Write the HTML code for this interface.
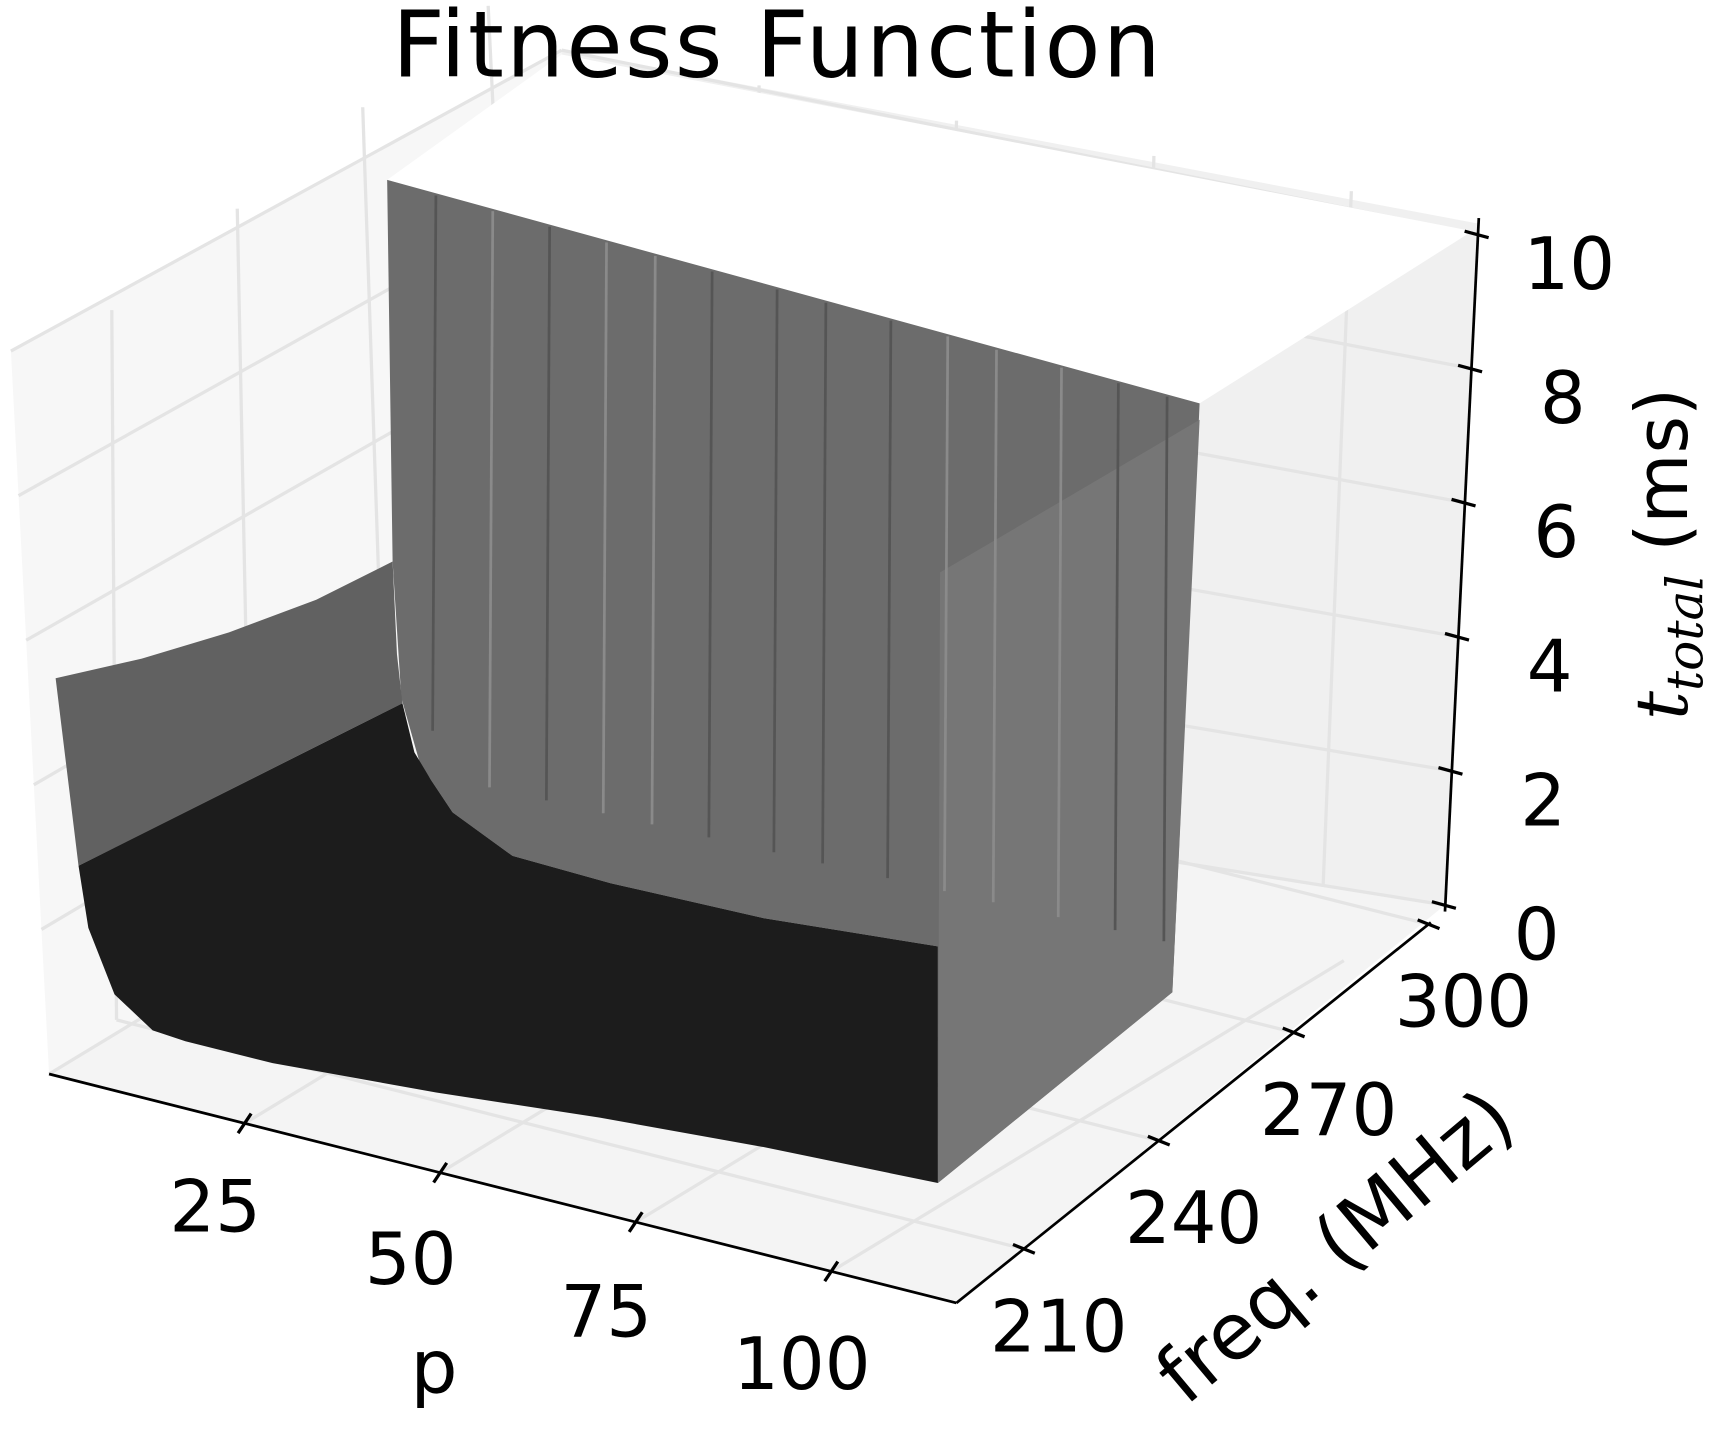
<!DOCTYPE html>
<html><head><meta charset="utf-8"><style>
html,body{margin:0;padding:0;background:#fff}
svg{display:block}
text{font-family:"DejaVu Sans","Liberation Sans",sans-serif;fill:#000}
</style></head><body>
<svg id="chart" width="1710" height="1436" viewBox="0 0 1568 1317" preserveAspectRatio="none" xmlns="http://www.w3.org/2000/svg">
<g>
  <polygon points="10,322 515,46 515,700 45,985" fill="#f7f7f7"/>
  <polygon points="515,46 1355,205 1325,830 515,700" fill="#f0f0f0"/>
  <polygon points="45,985 515,700 1325,830 877,1195" fill="#f4f4f4"/>
</g>
<g id="grid" stroke="#e4e4e4" stroke-width="3" fill="none"></g>
<g>
  <polygon points="355,165 515,50 1350,212 1100,370 1075,372" fill="#ffffff"/>
  <polygon points="355,165 1100,370 1075,910 860,1085 860,868 700,842 560,810 470,785 415,745 385,700 368,640 360,515" fill="#6c6c6c"/>
  <polygon points="862,525 1100,385 1075,910 860,1085" fill="#767676"/>
  <g id="stripes"></g>
  <polygon points="51,622 130,604 210,580 290,550 360,515 364,600 369,645 72,794" fill="#616161"/>
  <polygon points="72,794 369,645 380,690 395,715 415,745 470,785 560,810 700,842 860,868 860,1085 700,1052 550,1025 400,1002 250,975 170,955 140,945 105,912 81,851" fill="#1c1c1c"/>
</g>
<g id="axes" stroke="#000" stroke-width="2.5" fill="none">
  <line x1="45" y1="985" x2="877" y2="1195"/>
  <line x1="877" y1="1195" x2="1312" y2="846"/>
  <line x1="1356" y1="200" x2="1325" y2="836"/>
</g>
<g id="ticks"></g>
<text x="713" y="70" font-size="84" letter-spacing="2" text-anchor="middle">Fitness Function</text>
<text x="398" y="1277" font-size="68" text-anchor="middle">p</text>
<text font-size="72" text-anchor="middle" transform="translate(1240,1162) rotate(-40)">freq. (MHz)</text>
<text font-size="66" text-anchor="middle" transform="translate(1547,508) rotate(-90)"><tspan font-family="DejaVu Serif,serif" font-style="italic">t</tspan><tspan font-family="DejaVu Serif,serif" font-style="italic" font-size="46" dy="14">total</tspan><tspan dy="-14"> (ms)</tspan></text>
</svg>
<script>
const pTicks=[25,50,75,100];
const pTickLabels=["25","50","75","100"];
const freqTicks=[210,240,270,300];
const freqTickLabels=["210","240","270","300"];
const zTicks=[0,2,4,6,8,10];
const zTickLabels=["0","2","4","6","8","10"];
const stripeP=[6,13,20,27,33,40,48,54,62,69,75,83,90,96];
const NS="http://www.w3.org/2000/svg";
const P0=[45,985],P1=[877,1195];const pMin=0,pMax=116;
const F0=[877,1195],F1=[1312,846];const fMin=195,fMax=300.5;
const Z0=[1325,830],Z1=[1355,215];const zMin=0,zMax=10;
function lerp(a,b,t){return [a[0]+(b[0]-a[0])*t,a[1]+(b[1]-a[1])*t];}
function pPos(v){return lerp(P0,P1,(v-pMin)/(pMax-pMin));}
function fPos(v){return lerp(F0,F1,(v-fMin)/(fMax-fMin));}
function zPos(v){return lerp(Z0,Z1,(v-zMin)/(zMax-zMin));}
const ticks=document.getElementById('ticks');
function line(x1,y1,x2,y2,name){const l=document.createElementNS(NS,'line');l.setAttribute('x1',x1);l.setAttribute('y1',y1);l.setAttribute('x2',x2);l.setAttribute('y2',y2);l.setAttribute('stroke','#000');l.setAttribute('stroke-width','3');


ticks.appendChild(l);}
function label(x,y,s,anchor,name){const t=document.createElementNS(NS,'text');t.setAttribute('x',x);t.setAttribute('y',y);t.setAttribute('font-size','66');t.setAttribute('text-anchor',anchor);t.textContent=s;


ticks.appendChild(t);}
pTicks.forEach((v,i)=>{const [x,y]=pPos(v);line(x-6,y+9,x+6,y-9,'p-tick');label(x-27,y+99+i*3,pTickLabels[i],'middle','p-tick-label');});
freqTicks.forEach((v,i)=>{const [x,y]=fPos(v);line(x-10,y-4,x+10,y+4,'freq-tick');label(x+32,y+94,freqTickLabels[i],'middle','freq-tick-label');});
zTicks.forEach((v,i)=>{const [x,y]=zPos(v);line(x-12,y-3,x+10,y+3,'z-tick');label(x+84,y+50,zTickLabels[i],'middle','z-tick-label');});
const grid=document.getElementById('grid');
function gl(a,b,name){const l=document.createElementNS(NS,'line');l.setAttribute('x1',a[0]);l.setAttribute('y1',a[1]);l.setAttribute('x2',b[0]);l.setAttribute('y2',b[1]);


grid.appendChild(l);}
pTicks.forEach(v=>{const a=pPos(v);gl(a,[a[0]+470,a[1]-285],'floor-grid-p');const t=(v-pMin)/(pMax-pMin);const b=[515+t*810,700+t*130];gl(b,[b[0]+t*30,b[1]-654+t*20],'back-grid-p');});
freqTicks.forEach(v=>{const a=fPos(v);const b=[a[0]-832,a[1]-210];gl(a,b,'floor-grid-f');gl(b,[b[0]-(b[0]-45)*0.07,b[1]-654+(b[0]-45)*0.05],'left-grid-f');});
zTicks.forEach(v=>{const b=zPos(v);const t=(v-zMin)/(zMax-zMin);gl([b[0],b[1]],[515,700-654*t],'back-grid-z');gl([515,700-654*t],[45-35*t,985-663*t],'left-grid-z');});
const stripes=document.getElementById('stripes');
stripeP.forEach(v=>{const t=(v-pMin)/(100-pMin);const x=355+t*(1100-355);const yTop=165+t*(370-165);const yBot=Math.min(868,700+t*170+ (v<12?-40:0));
const l=document.createElementNS(NS,'line');l.setAttribute('x1',x);l.setAttribute('y1',yTop+2);l.setAttribute('x2',x-3);l.setAttribute('y2',yBot);l.setAttribute('stroke',v%2?'#8a8a8a':'#555555');l.setAttribute('stroke-width','2.5');


stripes.appendChild(l);});
</script>
</body></html>
